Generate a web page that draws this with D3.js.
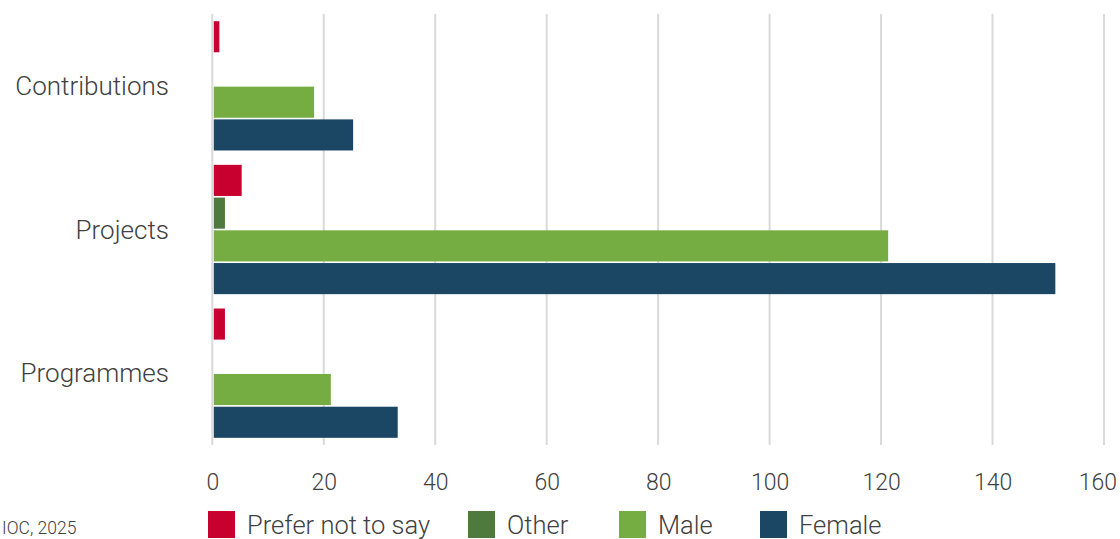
<!DOCTYPE html>
<html>
<head>
<meta charset="utf-8">
<script src="https://cdn.jsdelivr.net/npm/d3@7"></script>
<style>
  html, body { margin: 0; padding: 0; background: #fff; }
  svg { display: block; }
  text { font-family: Roboto, "DejaVu Sans", sans-serif; font-weight: 300; fill: #404040; }
</style>
</head>
<body>
<svg id="chart" width="1120" height="539"></svg>
<script>
// Categories (top to bottom) and series (top to bottom within each group)
const categories = ["Contributions", "Projects", "Programmes"];
const seriesNames = ["Prefer not to say", "Other", "Male", "Female"];
const seriesColors = ["#C8002F", "#4E7A3E", "#76AD43", "#1B4764"];

// Counts per series, in category order
const preferNotToSay = [1, 5, 2];
const other = [0, 2, 0];
const male = [18, 121, 21];
const female = [25, 151, 33];

const tickValues = [0, 20, 40, 60, 80, 100, 120, 140, 160];
const sourceNote = "IOC, 2025";

const seriesValues = [preferNotToSay, other, male, female];
const rows = categories.map((c, i) => ({
  category: c,
  values: seriesNames.map((s, j) => ({ series: s, value: seriesValues[j][i], color: seriesColors[j] }))
}));

const W = 1120;
const svg = d3.select("#chart");

const x = d3.scaleLinear().domain([0, 160]).range([212.3, 1104]);
const y0 = d3.scaleBand().domain(categories).range([14, 445]).paddingInner(0.1).paddingOuter(0.05);
const y1 = d3.scaleBand().domain(seriesNames).range([0, y0.bandwidth()]).paddingInner(0.05);

// Vertical gridlines
svg.append("g")
  .selectAll("line")
  .data(tickValues)
  .join("line")
  .attr("x1", d => x(d)).attr("x2", d => x(d))
  .attr("y1", 14).attr("y2", 445)
  .attr("stroke", "#D9D9D9")
  .attr("stroke-width", 2);

// Bars
const groups = svg.append("g")
  .selectAll("g")
  .data(rows)
  .join("g")
  .attr("transform", d => `translate(0,${y0(d.category)})`);

groups.selectAll("rect")
  .data(d => d.values.filter(v => v.value > 0))
  .join("rect")
  .attr("x", x(0) + 1.5)
  .attr("y", d => y1(d.series))
  .attr("width", d => x(d.value) - x(0))
  .attr("height", y1.bandwidth())
  .attr("fill", d => d.color);

// Category labels
svg.append("g")
  .selectAll("text")
  .data(categories)
  .join("text")
  .attr("x", 169)
  .attr("y", d => y0(d) + y0.bandwidth() / 2)
  .attr("dy", "0.35em")
  .attr("text-anchor", "end")
  .style("font-size", "26px")
  .text(d => d);

// Bottom axis labels
const xAxis = d3.axisBottom(x).tickValues(tickValues).tickSize(0).tickPadding(0);
const axisG = svg.append("g").attr("transform", "translate(0,474)").call(xAxis);
axisG.select(".domain").remove();
axisG.selectAll("text")
  .attr("dy", "0.71em")
  .style("font-family", "Roboto, sans-serif")
  .style("font-weight", "300")
  .style("font-size", "23px")
  .attr("fill", "#404040");
// keep the last label inside the canvas
axisG.selectAll("text").each(function () {
  const w = this.getComputedTextLength();
  const tx = d3.select(this.parentNode).attr("transform");
  const cx = +tx.match(/translate\(([-\d.]+)/)[1];
  const over = cx + w / 2 - (W - 3);
  if (over > 0) d3.select(this).attr("x", -over);
});

// Legend
const legendX = [208, 468, 619, 760];
const legend = svg.append("g")
  .selectAll("g")
  .data(seriesNames)
  .join("g")
  .attr("transform", (d, i) => `translate(${legendX[i]},511)`);
legend.append("rect")
  .attr("width", 27).attr("height", 27)
  .attr("fill", (d, i) => seriesColors[i]);
legend.append("text")
  .attr("x", 39).attr("y", 14)
  .attr("dy", "0.35em")
  .style("font-size", "25.5px")
  .text(d => d);

// Source note
svg.append("text")
  .attr("x", 2).attr("y", 534)
  .style("font-size", "17.5px")
  .text(sourceNote);
</script>
</body>
</html>
